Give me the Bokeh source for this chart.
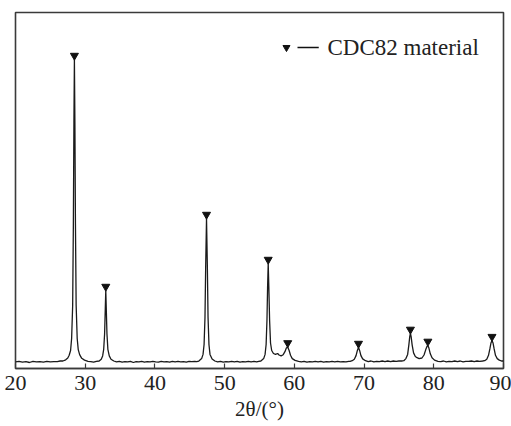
from bokeh.plotting import figure
from bokeh.models import Range1d, FixedTicker
from bokeh.core.properties import value
from bokeh.embed import file_html
from bokeh.resources import INLINE

# XRD trace: 2theta (deg) and intensity (a.u., baseline ~0)
two_theta = [
    20.0, 20.5, 21.0, 21.5, 22.0, 22.5, 23.0, 23.5, 24.0, 24.5, 25.0, 25.5, 26.0, 26.4,
    26.8, 27.2, 27.5, 27.7, 27.9, 28.05, 28.2, 28.3, 28.38, 28.45, 28.52, 28.6, 28.7, 28.85,
    29.0, 29.2, 29.5, 29.9, 30.4, 30.8, 31.2, 31.6,
    32.0, 32.3, 32.5, 32.65, 32.78, 32.88, 32.95, 33.02, 33.12, 33.25, 33.45, 33.7, 34.1,
    34.5, 34.9, 35.3, 35.7, 36.1, 36.5, 36.9, 37.3, 37.7, 38.1, 38.5, 38.9, 39.3, 39.7,
    40.1, 40.5, 40.9, 41.3, 41.7, 42.1, 42.5, 42.9, 43.3, 43.7, 44.1, 44.5, 44.9, 45.3,
    45.7, 46.0,
    46.3, 46.7, 46.9, 47.05, 47.18, 47.28, 47.4, 47.52, 47.62, 47.75, 47.9, 48.2, 48.6,
    49.0, 49.4, 49.8, 50.2, 50.6, 51.0, 51.4, 51.8, 52.2, 52.6, 53.0, 53.4, 53.8, 54.2,
    54.6, 54.9,
    55.2, 55.6, 55.8, 55.95, 56.07, 56.16, 56.25, 56.34, 56.45, 56.58, 56.75, 57.0, 57.3,
    57.6, 57.8, 58.1, 58.4, 58.65, 58.85, 59.05, 59.25, 59.45, 59.7, 60.1, 60.6,
    61.0, 61.4, 61.8, 62.2, 62.6, 63.0, 63.4, 63.8, 64.2, 64.6, 65.0, 65.4, 65.8, 66.2,
    66.6, 67.0, 67.4, 67.8, 68.0,
    68.3, 68.6, 68.85, 69.05, 69.2, 69.35, 69.55, 69.8, 70.2,
    70.6, 71.0, 71.4, 71.8, 72.2, 72.6, 73.0, 73.4, 73.8, 74.2, 74.6, 75.0, 75.4,
    75.7, 76.0, 76.25, 76.42, 76.55, 76.65, 76.75, 76.9, 77.1, 77.35, 77.6, 77.9, 78.3,
    78.6, 78.85, 79.05, 79.15, 79.3, 79.5, 79.75, 80.1, 80.6,
    81.0, 81.4, 81.8, 82.2, 82.6, 83.0, 83.4, 83.8, 84.2, 84.6, 85.0, 85.4, 85.8, 86.2,
    86.6, 87.0,
    87.3, 87.6, 87.85, 88.05, 88.2, 88.35, 88.5, 88.65, 88.85, 89.1, 89.4, 89.7, 90.0,
]
intensity = [
    0.2, 0.4, 0.1, 0.3, 0.0, 0.4, 0.2, 0.3, 0.1, 0.4, 0.2, 0.3, 0.3, 0.5,
    0.5, 0.9, 1.5, 2.4, 4.0, 8.0, 19.0, 46.0, 80.0, 101.0, 80.0, 46.0, 19.0, 8.0,
    4.3, 2.6, 1.4, 0.8, 0.4, 0.3, 0.1, 0.4,
    0.5, 1.1, 2.2, 4.4, 9.5, 18.0, 24.0, 18.0, 9.5, 4.4, 2.2, 1.1, 0.5,
    0.2, 0.4, 0.1, 0.3, 0.2, 0.4, 0.0, 0.3, 0.2, 0.4, 0.1, 0.3, 0.2, 0.4,
    0.2, 0.1, 0.4, 0.2, 0.3, 0.1, 0.4, 0.2, 0.4, 0.2, 0.3, 0.1, 0.4, 0.3,
    0.4, 0.3,
    0.5, 1.3, 2.7, 6.0, 15.0, 32.0, 48.0, 32.0, 15.0, 6.0, 2.7, 1.2, 0.5,
    0.2, 0.4, 0.1, 0.3, 0.2, 0.4, 0.2, 0.4, 0.1, 0.3, 0.2, 0.4, 0.2, 0.4,
    0.2, 0.4,
    0.5, 1.3, 2.7, 6.0, 14.0, 25.0, 33.0, 25.0, 14.0, 6.5, 4.0, 3.0, 2.7,
    3.0, 2.5, 2.2, 2.6, 3.6, 4.8, 5.2, 4.0, 2.4, 1.3, 0.7, 0.4,
    0.2, 0.4, 0.1, 0.3, 0.2, 0.4, 0.2, 0.4, 0.1, 0.3, 0.2, 0.4, 0.2, 0.4,
    0.2, 0.3, 0.2, 0.4, 0.4,
    0.6, 1.1, 2.3, 4.1, 5.0, 4.1, 2.3, 1.2, 0.6,
    0.3, 0.5, 0.2, 0.4, 0.3, 0.5, 0.3, 0.5, 0.3, 0.5, 0.4, 0.5, 0.5,
    0.6, 1.3, 2.7, 5.8, 8.6, 9.7, 8.6, 5.8, 3.2, 2.0, 1.6, 1.3, 1.5,
    2.5, 4.3, 5.5, 5.7, 4.8, 2.9, 1.6, 0.8, 0.4,
    0.3, 0.5, 0.2, 0.4, 0.3, 0.5, 0.3, 0.5, 0.2, 0.4, 0.4, 0.5, 0.3, 0.5,
    0.4, 0.5,
    0.6, 1.1, 2.4, 4.6, 6.5, 7.3, 6.5, 4.6, 2.4, 1.3, 0.8, 0.5, 0.5,
]

# Marked peaks (CDC82 material)
peak_2theta = [28.45, 32.95, 47.4, 56.25, 59.05, 69.2, 76.65, 79.15, 88.35]
peak_intensity = [101.0, 24.0, 48.0, 33.0, 5.2, 5.0, 9.7, 5.7, 7.3]

x_ticks = [20, 30, 40, 50, 60, 70, 80, 90]
legend_label = "CDC82 material"
x_label = "2θ/(°)"

serif = "Liberation Serif"

p = figure(
    width=511, height=426,
    x_range=Range1d(20, 90), y_range=Range1d(-2, 116.67),
    output_backend="svg", toolbar_location=None,
    min_border_left=15, min_border_right=8, min_border_top=12, min_border_bottom=58,
)
p.background_fill_color = "white"
p.border_fill_color = "white"
p.grid.visible = False
p.yaxis.visible = False
p.outline_line_color = "#3a3a3a"
p.outline_line_width = 1.6

ax = p.xaxis[0]
ax.ticker = FixedTicker(ticks=x_ticks)
ax.major_tick_in = 5
ax.major_tick_out = 0
ax.minor_tick_in = 0
ax.minor_tick_out = 0
ax.axis_line_color = "#3a3a3a"
ax.axis_line_width = 1.6
ax.major_tick_line_color = "#3a3a3a"
ax.major_tick_line_width = 1.2
ax.major_label_text_font = serif
ax.major_label_text_font_size = "22px"
ax.major_label_text_color = "#222222"
ax.major_label_standoff = 7
ax.axis_label = x_label
ax.axis_label_text_font = serif
ax.axis_label_text_font_style = "normal"
ax.axis_label_text_font_size = "21px"
ax.axis_label_text_color = "#222222"
ax.axis_label_standoff = 4

p.line(two_theta, intensity, line_color="#1a1a1a", line_width=1.3)
p.scatter([x for x in peak_2theta], [y + 1.3 for y in peak_intensity],
          marker="inverted_triangle", size=8, fill_color="#111111", line_color="#111111")

# legend entry drawn by hand: marker, dash, text
p.scatter([58.87], [105.0], marker="inverted_triangle", size=7,
          fill_color="#111111", line_color="#111111")
p.segment(x0=[60.45], y0=[105.0], x1=[63.5], y1=[105.0], line_color="#111111", line_width=1.4)
p.text(x=[64.75], y=[105.0], text=[legend_label], text_font=value(serif),
       text_font_size="23px", text_baseline="middle", text_align="left", text_color="#222222")

open("out.html", "w").write(file_html(p, INLINE))
